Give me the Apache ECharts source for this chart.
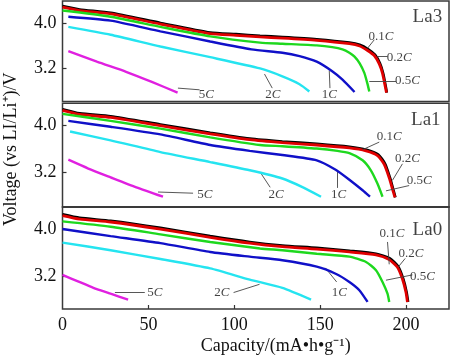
<!DOCTYPE html>
<html><head><meta charset="utf-8">
<script src="https://cdn.jsdelivr.net/npm/echarts@6/dist/echarts.min.js"></script>
<style>html,body{margin:0;padding:0;background:#fff}#c{width:450px;height:360px}</style>
</head><body><div id="c"></div>
<script>
// ---- data ----
const rateLabels = ['0.1', '0.2', '0.5', '1', '2', '5'];
const panelNames = ['La3', 'La1', 'La0'];
const xTicks = [0, 50, 100, 150, 200];
const yTicks = [3.2, 4.0];

// La3 panel: [capacity, voltage]
const la3_01C = [[0,4.30],[10,4.24],[28,4.18],[57,4.00],[86,3.83],[101,3.80],[115,3.77],[128,3.75],[148,3.71],[167,3.65],[173,3.61],[178,3.53],[182,3.43],[184.8,3.28],[186.7,3.10],[188.3,2.85],[188.8,2.76]];
const la3_02C = [[0,4.28],[10,4.22],[28,4.16],[57,3.98],[86,3.81],[101,3.78],[115,3.75],[128,3.73],[148,3.69],[167,3.63],[173,3.59],[177.6,3.51],[181.5,3.42],[184.4,3.27],[186.3,3.10],[188,2.85],[188.6,2.76]];
const la3_05C = [[0,4.22],[28,4.11],[57,3.93],[86,3.76],[115,3.65],[128,3.63],[148,3.60],[157,3.57],[163,3.53],[167,3.47],[170,3.40],[173,3.28],[175.7,3.11],[177.5,2.92],[178.6,2.78]];
const la3_1C = [[3.4,4.11],[28,4.04],[57,3.85],[86,3.67],[110,3.53],[128,3.47],[138,3.41],[148,3.31],[157,3.14],[163,2.99],[170,2.77]];
const la3_2C = [[3.4,3.93],[28,3.79],[57,3.58],[86,3.39],[115,3.19],[128,3.05],[138,2.91],[143.7,2.78]];
const la3_5C = [[3.4,3.50],[20,3.31],[37,3.13],[52,2.95],[67,2.76]];

// La1 panel
const la1_01C = [[0,4.27],[10,4.20],[28,4.15],[57,4.01],[86,3.87],[109,3.77],[128,3.72],[148,3.68],[167,3.63],[177,3.58],[183.8,3.50],[187.8,3.34],[190.7,3.10],[192.4,2.92],[193.8,2.77]];
const la1_02C = [[0,4.25],[10,4.18],[28,4.13],[57,3.99],[86,3.85],[109,3.75],[128,3.70],[148,3.66],[167,3.61],[176.7,3.56],[183.4,3.48],[187.3,3.33],[190.2,3.10],[192,2.92],[193.5,2.77]];
const la1_05C = [[0,4.19],[28,4.07],[57,3.94],[86,3.79],[115,3.66],[128,3.64],[148,3.60],[160,3.56],[167,3.52],[174.7,3.40],[179.5,3.23],[183.4,3.00],[186.3,2.78]];
const la1_1C = [[3.4,4.07],[28,3.97],[57,3.84],[86,3.66],[109,3.56],[128,3.49],[148,3.40],[159,3.24],[167,3.07],[174.7,2.89],[179,2.78]];
const la1_2C = [[4.4,3.89],[28,3.74],[57,3.54],[86,3.37],[109,3.23],[128,3.09],[140,2.94],[150.5,2.78]];
const la1_5C = [[3.4,3.41],[15,3.26],[28,3.11],[43,2.94],[58.5,2.78]];

// La0 panel
const la0_01C = [[0,4.26],[10,4.20],[28,4.15],[57,4.03],[86,3.89],[109,3.79],[128,3.73],[148,3.69],[167,3.64],[182.5,3.59],[190.6,3.51],[195.5,3.37],[198.4,3.16],[200.3,2.94],[201.2,2.77]];
const la0_02C = [[0,4.24],[10,4.18],[28,4.13],[57,4.01],[86,3.87],[109,3.77],[128,3.71],[148,3.67],[167,3.62],[182.5,3.57],[190.2,3.49],[195,3.36],[197.9,3.16],[199.9,2.94],[200.8,2.77]];
const la0_05C = [[0,4.14],[28,4.05],[57,3.92],[86,3.79],[115,3.68],[128,3.65],[148,3.59],[167,3.54],[176.7,3.45],[182.5,3.31],[186.3,3.11],[189.2,2.91],[190.2,2.77]];
const la0_1C = [[0,4.01],[28,3.89],[57,3.77],[86,3.62],[109,3.54],[128,3.48],[148,3.37],[159,3.25],[167,3.11],[172.8,2.97],[177.6,2.77]];
const la0_2C = [[0,3.78],[28,3.65],[57,3.50],[86,3.34],[109,3.15],[128,3.01],[144.7,2.81]];
const la0_5C = [[0,3.23],[9,3.12],[18,3.01],[28,2.91],[38.2,2.81]];

// annotation text anchors [rate, capacity, voltage] and leader lines [cap1, v1, cap2, v2]
const la3Labels = [['0.1',185.4,3.76],['0.2',196,3.39],['0.5',200.8,2.97],['2',122.4,2.73],['1',155.3,2.73],['5',83.7,2.73]];
const la3Leaders = [[181.5,3.70,177.6,3.55],[183.4,3.40,189.2,3.40],[178.6,2.97,194.1,2.97],[117.6,3.09,122.1,2.84],[155.3,3.15,155.7,2.84],[67.2,2.84,79.8,2.81]];
const la1Labels = [['0.1',190.2,3.80],['0.2',200.8,3.43],['0.5',207.6,3.06],['2',124.4,2.81],['1',160.7,2.81],['5',82.8,2.81]];
const la1Leaders = [[184.4,3.71,174.7,3.58],[197.9,3.34,192.1,3.06],[201.8,2.97,188.3,2.88],[115.7,3.17,120.9,2.94],[160.2,3.22,160.2,2.93],[55.6,2.86,76,2.84]];
const la0Labels = [['0.1',191.8,3.94],['0.2',202.8,3.59],['0.5',209.5,3.20],['1',161.1,2.93],['2',92.8,2.93],['5',53.7,2.93]];
const la0Leaders = [[189.2,3.79,190.2,3.41],[199.5,3.51,195.6,3.37],[203.7,3.23,188.3,3.14],[159.6,3.11,153,3.35],[99.6,2.93,114.7,3.07],[30.5,2.93,47.9,2.93]];
const panelNamePos = [[212.4,4.11],[211.5,4.09],[212.4,3.99]];

// ---- styling / layout ----
const FONT = "'Liberation Serif','Times New Roman',serif";
const colors = ['#000000', '#e00000', '#1ed81e', '#1010c8', '#25e4f0', '#e020e0'];
const widths = [2.6, 2.8, 2.4, 2.4, 2.4, 2.4];
const gridsPx = [
  {top: 1, height: 100.6},
  {top: 103.3, height: 104},
  {top: 206.7, height: 102.3}
];
const yRanges = [[2.6, 4.39], [2.6, 4.37], [2.65, 4.39]];

const panels = [
  {curves: [la3_01C, la3_02C, la3_05C, la3_1C, la3_2C, la3_5C], labels: la3Labels, leaders: la3Leaders},
  {curves: [la1_01C, la1_02C, la1_05C, la1_1C, la1_2C, la1_5C], labels: la1Labels, leaders: la1Leaders},
  {curves: [la0_01C, la0_02C, la0_05C, la0_1C, la0_2C, la0_5C], labels: la0Labels, leaders: la0Leaders}
];

const grid = [], xAxis = [], yAxis = [], series = [];
panels.forEach((p, i) => {
  grid.push({left: 62.5, right: 1, top: gridsPx[i].top, height: gridsPx[i].height,
    outerBoundsMode: 'none', containLabel: false,
    show: true, borderColor: '#3a3a3a', borderWidth: 1.5, backgroundColor: 'transparent'});
  const bottom = i === 2;
  xAxis.push({
    gridIndex: i, type: 'value', min: 0, max: 225,
    axisLine: {show: false},
    axisTick: {show: bottom, inside: true, length: 4, lineStyle: {color: '#333', width: 1.2}, customValues: xTicks.slice(1)},
    axisLabel: {show: bottom, customValues: xTicks, fontFamily: FONT, fontSize: 18, color: '#111', margin: 7},
    splitLine: {show: false},
    name: bottom ? 'Capacity/(mA\u2022h\u2022g\u207B\u00B9)' : '',
    nameLocation: 'middle', nameGap: 28,
    nameTextStyle: {fontFamily: FONT, fontSize: 18, color: '#111', padding: [0, 0, 0, 40]}
  });
  yAxis.push({
    gridIndex: i, type: 'value', min: yRanges[i][0], max: yRanges[i][1],
    axisLine: {show: false},
    axisTick: {show: true, inside: true, length: 4, lineStyle: {color: '#333', width: 1.2}, customValues: yTicks},
    axisLabel: {customValues: yTicks, formatter: v => v.toFixed(1), fontFamily: FONT, fontSize: 18, color: '#111', margin: 6},
    splitLine: {show: false},
    name: i === 1 ? 'Voltage (vs LI/Li\u207A)/V' : '',
    nameLocation: 'middle', nameGap: 42, nameRotate: 90,
    nameTextStyle: {fontFamily: FONT, fontSize: 18, color: '#111', padding: [0, 0, 0, 12]}
  });
  p.curves.forEach((d, k) => {
    series.push({
      type: 'line', xAxisIndex: i, yAxisIndex: i, data: d,
      showSymbol: false, smooth: 0.2, silent: true,
      lineStyle: {color: colors[k], width: widths[k]}, z: 2 + k
    });
  });
  const textData = p.labels.map(l => ({value: [l[1], l[2]], rate: l[0]}));
  textData.push({value: panelNamePos[i], title: panelNames[i],
    label: {fontSize: 19}});
  series.push({
    type: 'scatter', xAxisIndex: i, yAxisIndex: i, symbolSize: 0, silent: true, z: 10,
    data: textData,
    label: {
      show: true, position: 'inside', fontFamily: FONT, fontSize: 13, color: '#111',
      formatter: q => q.data.rate ? q.data.rate + '{i|C}' : q.data.title,
      rich: {i: {fontFamily: FONT, fontSize: 13, fontStyle: 'italic', color: '#111'}}
    },
    markLine: {
      silent: true, symbol: 'none', animation: false,
      lineStyle: {color: '#444', width: 0.9, type: 'solid'},
      label: {show: false},
      data: p.leaders.map(l => [{coord: [l[0], l[1]]}, {coord: [l[2], l[3]]}])
    }
  });
});

const chart = echarts.init(document.getElementById('c'), null, {renderer: 'canvas'});
chart.setOption({animation: false, backgroundColor: '#fff', grid, xAxis, yAxis, series});
</script>
</body></html>
